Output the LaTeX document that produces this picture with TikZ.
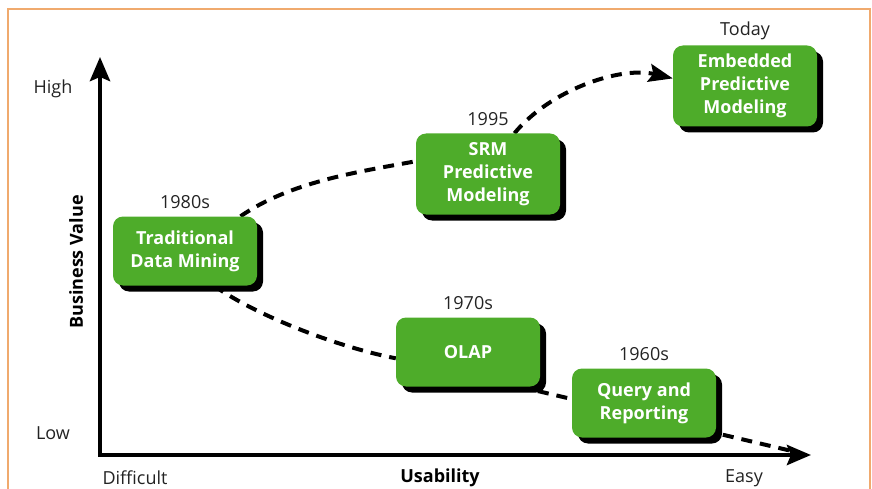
\documentclass[tikz,border=0pt]{standalone}
\usepackage{fontspec}
\setmainfont{Open Sans}
\usetikzlibrary{positioning, arrows.meta, backgrounds}

\definecolor{stagegreen}{RGB}{78,172,42}
\definecolor{framecol}{RGB}{240,170,110}
\definecolor{labelgray}{RGB}{35,35,35}

\tikzset{
	stage/.style={rounded corners=10pt, fill=stagegreen, text=white, align=center,
		font=\fontsize{18}{23}\selectfont\bfseries, minimum width=144pt, minimum height=69pt, inner sep=4pt,
		preaction={fill=black, transform canvas={shift={(6pt,-6pt)}}}},
	tallstage/.style={stage, minimum height=81pt},
	era/.style={font=\fontsize{18}{22}\selectfont, text=labelgray},
	axislabel/.style={font=\fontsize{18}{22}\selectfont\bfseries, text=black},
	trend/.style={line width=4pt, dash pattern=on 11pt off 8pt},
	axis/.style={line width=4.5pt, line join=miter},
}

\begin{document}
\begin{tikzpicture}[x=1pt, y=-1pt]
	\useasboundingbox (0,0) rectangle (872,489);
	% ---- frame ----
	\draw[framecol, line width=1.3pt] (8,489) -- (8,9) -- (870,9) -- (870,489);

	% ---- axes ----
	\coordinate (origin) at (100,455);
	\coordinate (ytop) at (100,57);
	\coordinate (xend) at (811,455);
	\coordinate (trendend) at (796,452);
	\draw[axis, {Stealth[length=24pt, width=20pt, inset=4pt]}-{Stealth[length=24pt, width=20pt, inset=4pt]}] (ytop) -- (origin) -- (xend);

	\node[era] (high) at (53,89) {High};
	\node[era] (low) at (53,433) {Low};
	\node[era] (difficult) at (135,478) {Difficult};
	\node[axislabel] (usability) at (440,478) {Usability};
	\node[era] (easy) at (744,478) {Easy};
	\node[axislabel, rotate=90] (bvalue) at (76,262) {Business Value};

	% ---- stages ----
	\node[stage] (trad) at (185,251) {Traditional\\Data Mining};
	\node[tallstage] (srm) at (488,174) {SRM\\Predictive\\Modeling};
	\node[tallstage] (emb) at (745,86) {Embedded\\Predictive\\Modeling};
	\node[stage] (olap) at (468,352) {OLAP};
	\node[stage] (query) at (644,403) {Query and\\Reporting};

	\node[era, above=4pt of trad] (y1980) {1980s};
	\node[era, above=4pt of srm] (y1995) {1995};
	\node[era, above=2pt of emb] (today) {Today};
	\node[era, above=4pt of olap] (y1970) {1970s};
	\node[era, above=4pt of query] (y1960) {1960s};

	% ---- trends ----
	\begin{pgfonlayer}{background}
	\draw[trend] (trad.32) .. controls (290,182) and (357,172) .. (srm.170);
	\draw[trend, -{Stealth[length=24pt, width=18pt, inset=4pt]}] (srm.57) .. controls (550,90) and (620,66) .. (emb.174);
	\draw[trend] (trad.-50) .. controls (255,315) and (337,347) .. (olap.185);
	\draw[trend] (olap.-34) -- (trendend);
	\end{pgfonlayer}
\end{tikzpicture}
\end{document}
